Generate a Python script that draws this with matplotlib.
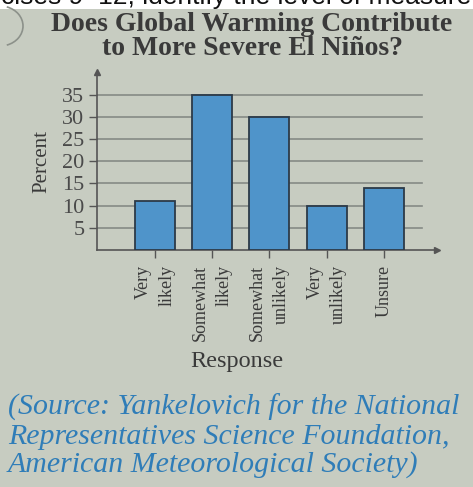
import matplotlib
matplotlib.use("Agg")
import matplotlib.pyplot as plt
from matplotlib.patches import Rectangle, Arc

categories = ["Very\nlikely", "Somewhat\nlikely", "Somewhat\nunlikely", "Very\nunlikely", "Unsure"]
percent = [11, 35, 30, 10, 14]
yticks = [5, 10, 15, 20, 25, 30, 35]

title_lines = ["Does Global Warming Contribute", "to More Severe El Niños?"]
source_lines = ["(Source: Yankelovich for the National",
                "Representatives Science Foundation,",
                "American Meteorological Society)"]

W, H = 473, 487
fig = plt.figure(figsize=(W / 100, H / 100), dpi=100)
bg = "#c7ccc1"
fig.patch.set_facecolor(bg)

# white strip with cut-off text at the top (page above the photo)
fig.add_artist(Rectangle((0, 1 - 9 / H), 1, 9 / H, transform=fig.transFigure,
                         facecolor="white", edgecolor="none", zorder=0))
fig.text(0.5, 1 - 4 / H, "cises 9–12, identify the level of measure", ha="center",
         va="baseline", fontsize=19, family="Liberation Sans", color="#111111")

# faint curved mark at top-left of the page photo
fig.add_artist(Arc((0 / W, 1 - 26 / H), 46 / W, 40 / H, theta1=-70, theta2=70,
                   transform=fig.transFigure, color="#8c918a", linewidth=1.2))

serif = "Liberation Serif"
ink = "#3a3a3a"
fig.text(0.533, 1 - 31 / H, title_lines[0], ha="center", va="baseline",
         fontsize=20, family=serif, weight="bold", color=ink)
fig.text(0.533, 1 - 55 / H, title_lines[1], ha="center", va="baseline",
         fontsize=20, family=serif, weight="bold", color=ink)

ax = fig.add_axes([97 / W, 1 - 250 / H, 340 / W, 178 / H])
ax.set_facecolor("none")
x = list(range(len(categories)))
ax.bar(x, percent, width=0.70, color="#4f94ca", edgecolor="#2c3a48", linewidth=1.3, zorder=3)
ax.set_xlim(-1.013, 4.93)
ax.set_ylim(0, 40.1)

for v in yticks:
    ax.axhline(v, xmin=0, xmax=0.956, color="#858a85", linewidth=1.2, zorder=1)
ax.set_yticks(yticks)
ax.set_yticklabels([str(v) for v in yticks], family=serif, fontsize=16, color="#4a4a4a")
ax.tick_params(axis="y", direction="out", length=6, width=1, color="#555555", pad=3)
ax.set_xticks(x)
ax.set_xticklabels(categories, rotation=90, family=serif, fontsize=13, color="#3a3a3a",
                   ha="center", va="top", multialignment="right", linespacing=1.5)
ax.tick_params(axis="x", direction="out", length=6, width=1, color="#555555", pad=5)

for s in ["top", "right"]:
    ax.spines[s].set_visible(False)
for s in ["left", "bottom"]:
    ax.spines[s].set_color("#555555")
    ax.spines[s].set_linewidth(1.2)
ax.plot(0, 1, marker="^", markersize=5, color="#555555", transform=ax.transAxes, clip_on=False)
ax.plot(1, 0, marker=">", markersize=5, color="#555555", transform=ax.transAxes, clip_on=False)

fig.text(42 / W, 1 - 162 / H, "Percent", rotation=90, ha="center", va="center",
         fontsize=15, family=serif, color="#3a3a3a")
fig.text(237 / W, 1 - 362 / H, "Response", ha="center", va="center",
         fontsize=17.5, family=serif, color="#3a3a3a")

ys = [407, 437, 465]
for line, yy in zip(source_lines, ys):
    fig.text(8 / W, 1 - yy / H, line, ha="left", va="center", fontsize=21.5,
             family=serif, style="italic", color="#2f7db8")

fig.savefig("out.png", dpi=100, facecolor=fig.get_facecolor())
